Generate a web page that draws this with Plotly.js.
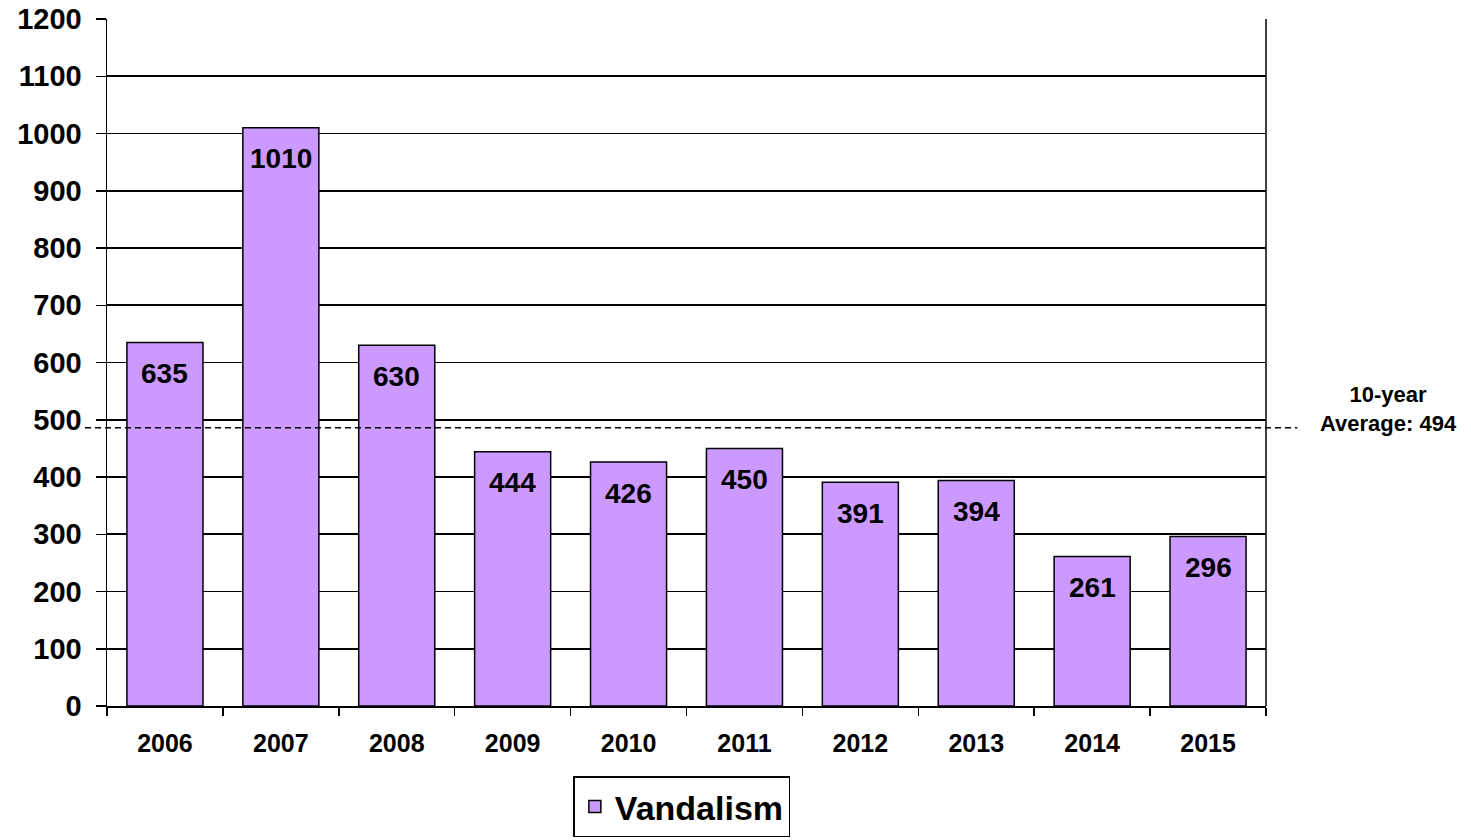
<!DOCTYPE html>
<html><head><meta charset="utf-8">
<script src="https://cdn.plot.ly/plotly-3.0.1.min.js"></script>
<style>html,body{margin:0;padding:0;background:#fff;}#chart{width:1471px;height:840px;}</style>
</head><body><div id="chart"></div>
<script>
const years = ['2006','2007','2008','2009','2010','2011','2012','2013','2014','2015'];
const vandalism = [635, 1010, 630, 444, 426, 450, 391, 394, 261, 296];
const averageLabel = 494;
const averageLinePos = 486; // where the dashed line is drawn in the picture
const seriesName = 'Vandalism';
const yTicks = [0,100,200,300,400,500,600,700,800,900,1000,1100,1200];

const FONT = '"Liberation Sans", Arial, sans-serif';

const trace = {
  type: 'bar', x: years, y: vandalism, name: seriesName,
  marker: {color: '#CC99FF', line: {color: '#000', width: 1.5}},
  hoverinfo: 'skip'
};

const labelAnns = years.map((yr, i) => ({
  x: i, y: vandalism[i], xref: 'x', yref: 'y', text: String(vandalism[i]),
  showarrow: false, yanchor: 'middle', yshift: -31,
  font: {family: FONT, size: 28, color: '#000', weight: 'bold'}
}));

const layout = {
  width: 1471, height: 840,
  margin: {l: 107, r: 205, t: 19, b: 134, autoexpand: false},
  paper_bgcolor: '#fff', plot_bgcolor: '#fff',
  bargap: 0.344,
  showlegend: true,
  legend: {orientation: 'h', x: 0.496, xanchor: 'center', yref: 'container', y: 0.003, yanchor: 'bottom',
    bordercolor: '#000', borderwidth: 1.5, bgcolor: '#fff', itemwidth: 30,
    font: {family: FONT, size: 34, color: '#000', weight: 'bold'}},
  xaxis: {
    type: 'category', range: [-0.5, 9.5], autorange: false, tickangle: 0, automargin: false,
    tickson: 'boundaries', ticks: 'outside', ticklen: 8, tickwidth: 1.5, tickcolor: '#000',
    showline: true, linecolor: '#000', linewidth: 1.5, mirror: false, showgrid: false,
    tickfont: {family: FONT, size: 25, color: '#000', weight: 'bold'}, ticklabelstandoff: 14
  },
  yaxis: {
    range: [0, 1200], autorange: false, automargin: false, tickvals: yTicks, ticktext: yTicks.map(String), ticks: 'outside', ticklen: 10, tickwidth: 1.5, tickcolor: '#000',
    showline: true, linecolor: '#000', linewidth: 1.5, showgrid: true, gridcolor: '#000', gridwidth: 1.6,
    zeroline: false, tickfont: {family: FONT, size: 29, color: '#000', weight: 'bold'}, ticklabelstandoff: 8
  },
  shapes: [
    {type: 'line', xref: 'paper', x0: 1, x1: 1, yref: 'paper', y0: 0, y1: 1, line: {color: '#000', width: 1.5}},
    {type: 'line', xref: 'paper', x0: -0.019, x1: 1.027, yref: 'y', y0: averageLinePos, y1: averageLinePos,
      line: {color: '#000', width: 1.3, dash: '6px,4px'}, layer: 'above'}
  ],
  annotations: labelAnns.concat([{
    xref: 'paper', x: 1.106, xanchor: 'center', yref: 'y', y: averageLinePos, yanchor: 'middle', yshift: 19,
    text: '10-year<br>Average: ' + averageLabel, showarrow: false,
    font: {family: FONT, size: 22, color: '#000', weight: 'bold'}
  }])
};

Plotly.newPlot('chart', [trace], layout, {displayModeBar: false, staticPlot: true});
</script></body></html>
